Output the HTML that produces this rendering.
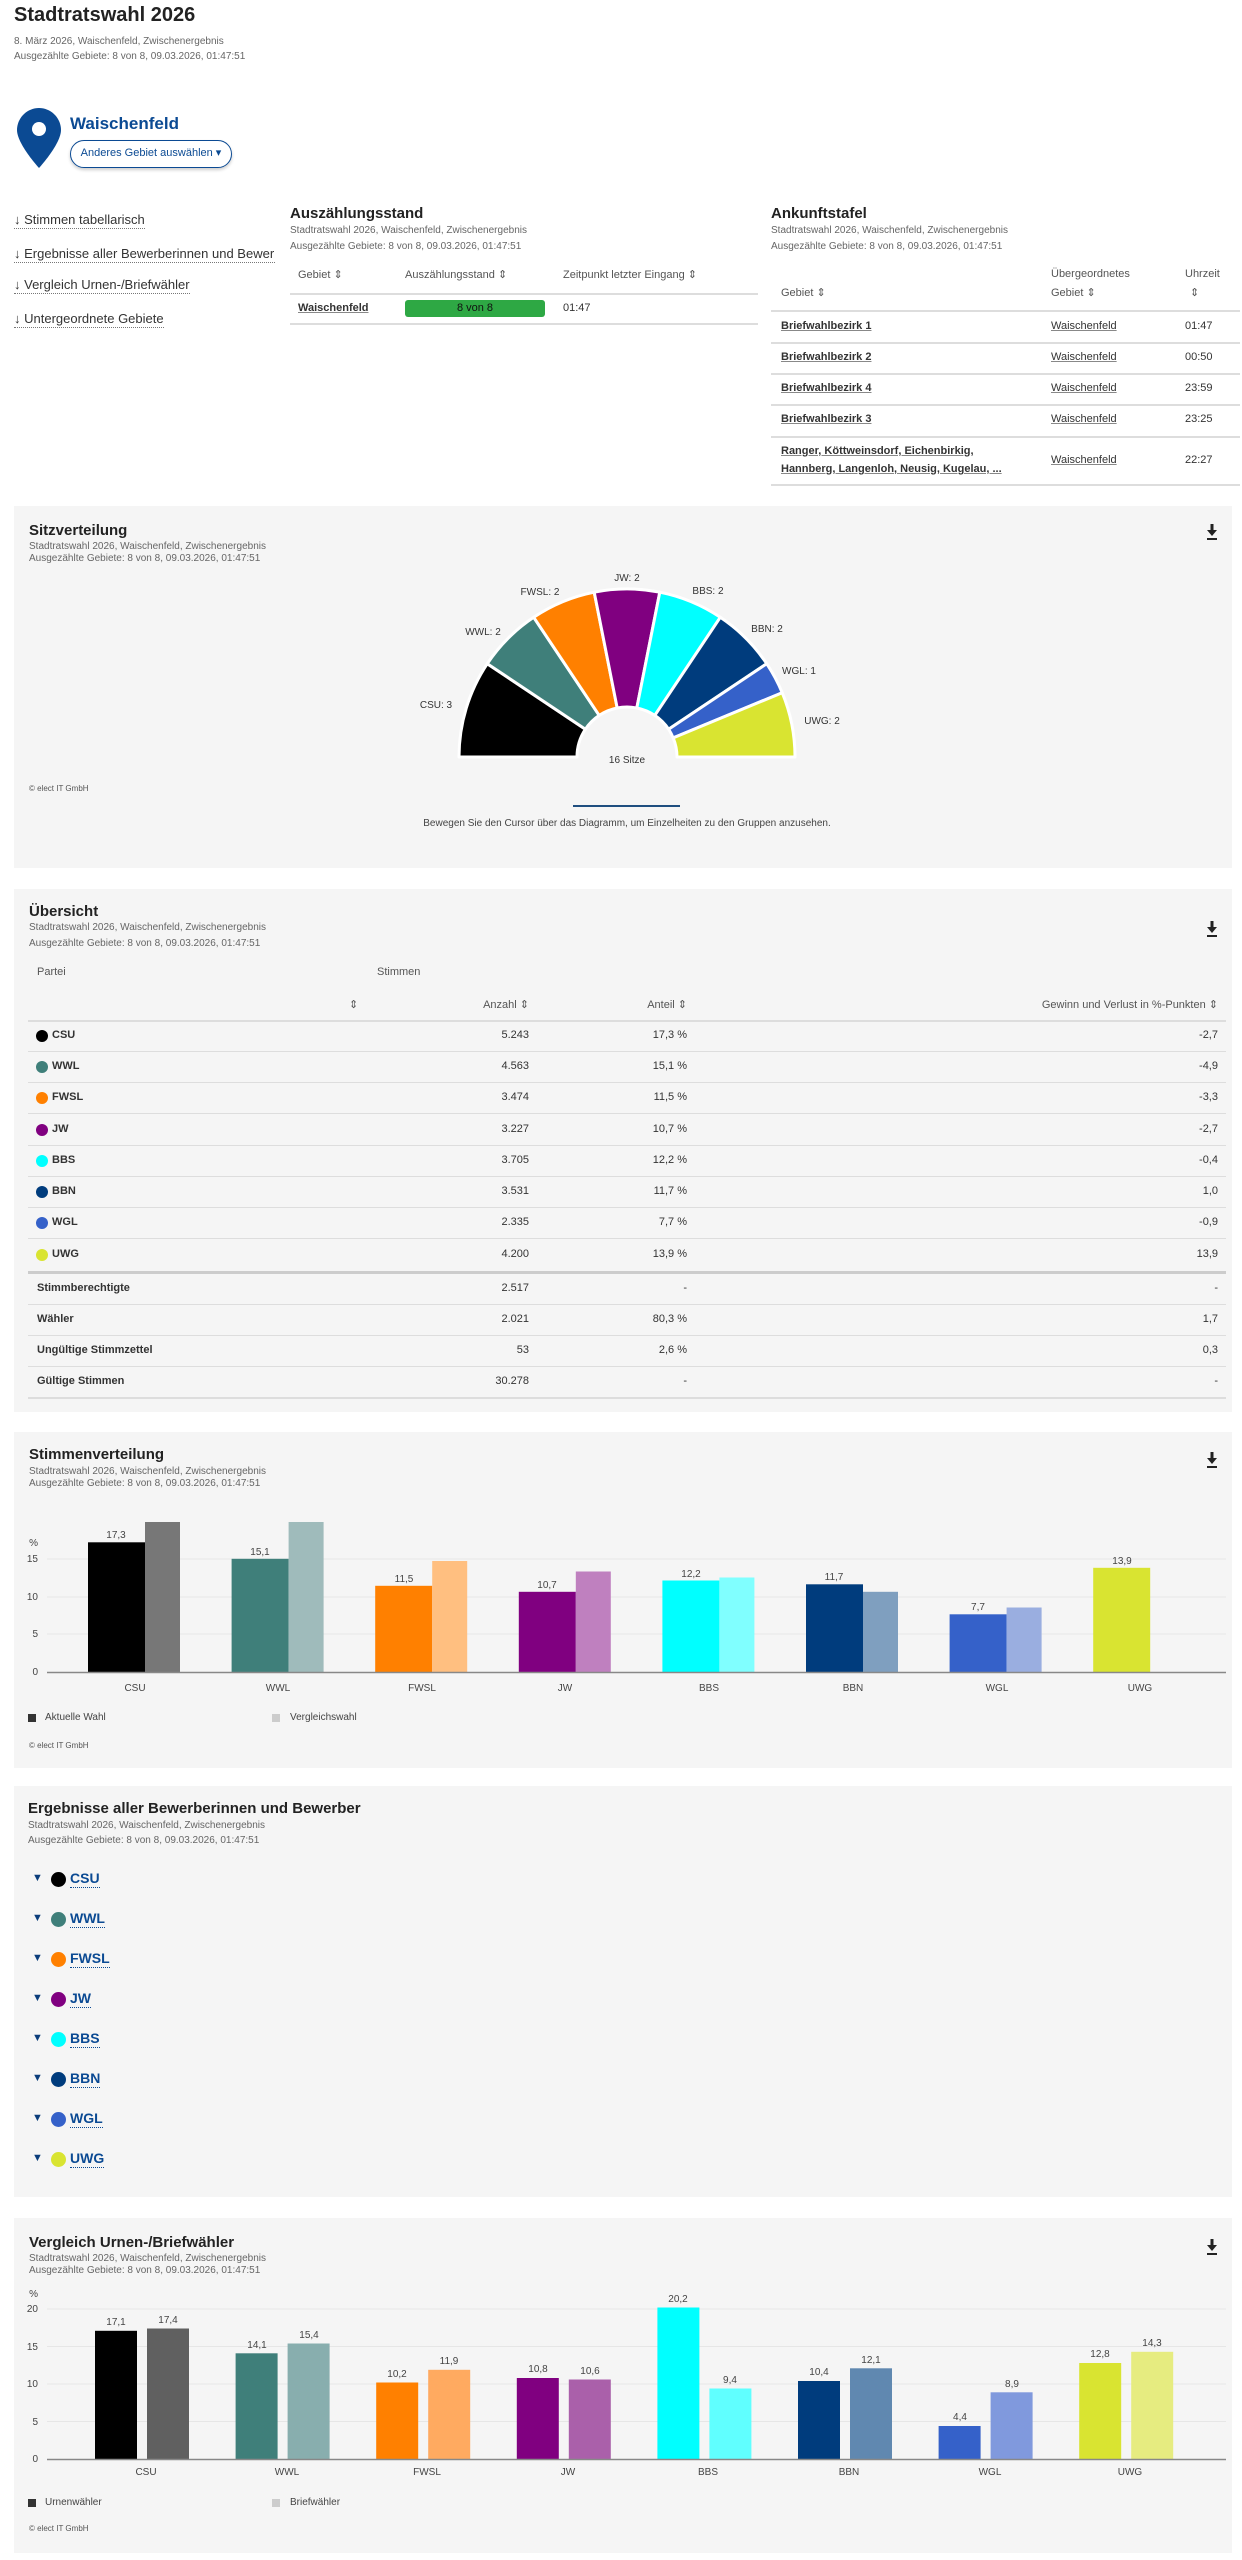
<!DOCTYPE html>
<html><head><meta charset="utf-8">
<style>
*{margin:0;padding:0;box-sizing:border-box}
body{width:1242px;height:2560px;background:#fff;font-family:"Liberation Sans",sans-serif;color:#222;position:relative;overflow:hidden}
.a{position:absolute;white-space:nowrap}
.panel{position:absolute;left:14px;width:1218px;background:#f5f5f5}
.sub{font-size:10px;color:#666}
.h2{font-size:15px;font-weight:bold;color:#222}
.nav{font-size:13px;color:#333;border-bottom:1px dotted #777;padding-bottom:1px}
.th{font-size:11px;color:#555}
.td{font-size:11px;color:#333}
.lnk{text-decoration:underline;text-decoration-style:solid;text-decoration-color:#888}
.hl{position:absolute;height:1px;background:#ddd}
.dot{position:absolute;width:12px;height:12px;border-radius:50%}
</style></head><body>

<!-- header -->
<div class="a" style="left:14px;top:4px;font-size:20px;font-weight:bold;color:#222">Stadtratswahl 2026</div>
<div class="a sub" style="left:14px;top:36px">8. März 2026, Waischenfeld, Zwischenergebnis</div>
<div class="a sub" style="left:14px;top:51px">Ausgezählte Gebiete: 8 von 8, 09.03.2026, 01:47:51</div>

<svg class="a" style="left:17px;top:108px" width="44" height="60" viewBox="0 0 44 60">
<path d="M22 0C10 0 0 10 0 22C0 36 22 60 22 60C22 60 44 36 44 22C44 10 34 0 22 0Z" fill="#0b4a93"/>
<circle cx="22" cy="21" r="7" fill="#fff"/></svg>
<div class="a" style="left:70px;top:114px;font-size:17px;font-weight:bold;color:#0b4a93">Waischenfeld</div>
<div class="a" style="left:70px;top:140px;width:162px;height:28px;border:1.5px solid #0b4a93;border-radius:14px;box-shadow:0 2px 3px rgba(0,0,0,.2);font-size:11px;color:#0b4a93;line-height:25px;text-align:center">Anderes Gebiet auswählen ▾</div>

<!-- nav -->
<div class="a nav" style="left:14px;top:212px">↓ Stimmen tabellarisch</div>
<div class="a" style="left:14px;top:245px;width:261px;overflow:hidden"><span class="nav">↓ Ergebnisse aller Bewerberinnen und Bewerber</span></div>
<div class="a nav" style="left:14px;top:277px">↓ Vergleich Urnen-/Briefwähler</div>
<div class="a nav" style="left:14px;top:311px">↓ Untergeordnete Gebiete</div>

<!-- Auszählungsstand -->
<div class="a h2" style="left:290px;top:205px">Auszählungsstand</div>
<div class="a sub" style="left:290px;top:225px">Stadtratswahl 2026, Waischenfeld, Zwischenergebnis</div>
<div class="a sub" style="left:290px;top:241px">Ausgezählte Gebiete: 8 von 8, 09.03.2026, 01:47:51</div>
<div class="a th" style="left:298px;top:268px">Gebiet ⇕</div>
<div class="a th" style="left:405px;top:268px">Auszählungsstand ⇕</div>
<div class="a th" style="left:563px;top:268px">Zeitpunkt letzter Eingang ⇕</div>
<div class="hl" style="left:290px;top:293px;width:468px;height:2px"></div>
<div class="a td lnk" style="left:298px;top:302px;font-weight:bold">Waischenfeld</div>
<div class="a" style="left:405px;top:300px;width:140px;height:17px;background:#2ea844;border-radius:3px;font-size:11px;color:#111;text-align:center;line-height:17px">8 von 8</div>
<div class="a td" style="left:563px;top:302px">01:47</div>
<div class="hl" style="left:290px;top:323px;width:468px;height:2px"></div>

<!-- Ankunftstafel -->
<div class="a h2" style="left:771px;top:205px">Ankunftstafel</div>
<div class="a sub" style="left:771px;top:225px">Stadtratswahl 2026, Waischenfeld, Zwischenergebnis</div>
<div class="a sub" style="left:771px;top:241px">Ausgezählte Gebiete: 8 von 8, 09.03.2026, 01:47:51</div>
<div class="a th" style="left:781px;top:286px">Gebiet ⇕</div>
<div class="a th" style="left:1051px;top:268px">Übergeordnetes</div>
<div class="a th" style="left:1051px;top:286px">Gebiet ⇕</div>
<div class="a th" style="left:1185px;top:268px">Uhrzeit</div>
<div class="a th" style="left:1190px;top:286px">⇕</div>
<div class="hl" style="left:771px;top:310px;width:469px;height:2px"></div>
<div class="a td lnk" style="left:781px;top:320px;font-weight:bold">Briefwahlbezirk 1</div><div class="a td lnk" style="left:1051px;top:320px">Waischenfeld</div><div class="a td" style="left:1185px;top:320px">01:47</div>
<div class="hl" style="left:771px;top:342px;width:469px;height:2px"></div>
<div class="a td lnk" style="left:781px;top:351px;font-weight:bold">Briefwahlbezirk 2</div><div class="a td lnk" style="left:1051px;top:351px">Waischenfeld</div><div class="a td" style="left:1185px;top:351px">00:50</div>
<div class="hl" style="left:771px;top:373px;width:469px;height:2px"></div>
<div class="a td lnk" style="left:781px;top:382px;font-weight:bold">Briefwahlbezirk 4</div><div class="a td lnk" style="left:1051px;top:382px">Waischenfeld</div><div class="a td" style="left:1185px;top:382px">23:59</div>
<div class="hl" style="left:771px;top:404px;width:469px;height:2px"></div>
<div class="a td lnk" style="left:781px;top:413px;font-weight:bold">Briefwahlbezirk 3</div><div class="a td lnk" style="left:1051px;top:413px">Waischenfeld</div><div class="a td" style="left:1185px;top:413px">23:25</div>
<div class="hl" style="left:771px;top:436px;width:469px;height:2px"></div>
<div class="a td lnk" style="left:781px;top:445px;font-weight:bold">Ranger, Köttweinsdorf, Eichenbirkig,</div>
<div class="a td lnk" style="left:781px;top:463px;font-weight:bold">Hannberg, Langenloh, Neusig, Kugelau, ...</div>
<div class="a td lnk" style="left:1051px;top:454px">Waischenfeld</div><div class="a td" style="left:1185px;top:454px">22:27</div>
<div class="hl" style="left:771px;top:484px;width:469px;height:2px"></div>

<!-- panels -->
<div class="panel" style="top:506px;height:362px"></div>
<div class="panel" style="top:889px;height:523px"></div>
<div class="panel" style="top:1432px;height:336px"></div>
<div class="panel" style="top:1786px;height:411px"></div>
<div class="panel" style="top:2218px;height:335px"></div>

<!-- Sitzverteilung text -->
<div class="a h2" style="left:29px;top:522px">Sitzverteilung</div>
<div class="a sub" style="left:29px;top:541px">Stadtratswahl 2026, Waischenfeld, Zwischenergebnis</div>
<div class="a sub" style="left:29px;top:553px">Ausgezählte Gebiete: 8 von 8, 09.03.2026, 01:47:51</div>
<div class="a" style="left:29px;top:784px;font-size:8px;color:#555">© elect IT GmbH</div>
<div class="a" style="left:573px;top:805px;width:107px;height:2px;background:#1f4e7f"></div>
<div class="a" style="left:0;width:1254px;top:818px;font-size:10px;color:#444;text-align:center">Bewegen Sie den Cursor über das Diagramm, um Einzelheiten zu den Gruppen anzusehen.</div>

<!-- Übersicht -->
<div class="a h2" style="left:29px;top:903px">Übersicht</div>
<div class="a sub" style="left:29px;top:922px">Stadtratswahl 2026, Waischenfeld, Zwischenergebnis</div>
<div class="a sub" style="left:29px;top:938px">Ausgezählte Gebiete: 8 von 8, 09.03.2026, 01:47:51</div>
<div class="a th" style="left:37px;top:966px">Partei</div>
<div class="a th" style="left:377px;top:966px">Stimmen</div>
<div class="a th" style="left:349px;top:998px">⇕</div>
<div class="a th" style="right:713px;top:998px">Anzahl ⇕</div>
<div class="a th" style="right:555px;top:998px">Anteil ⇕</div>
<div class="a th" style="right:24px;top:998px">Gewinn und Verlust in %-Punkten ⇕</div>
<div class="hl" style="left:28px;top:1020px;width:1198px;height:2px"></div>

<div id="tbl"></div>

<!-- Stimmenverteilung -->
<div class="a h2" style="left:29px;top:1446px">Stimmenverteilung</div>
<div class="a sub" style="left:29px;top:1466px">Stadtratswahl 2026, Waischenfeld, Zwischenergebnis</div>
<div class="a sub" style="left:29px;top:1478px">Ausgezählte Gebiete: 8 von 8, 09.03.2026, 01:47:51</div>
<div class="a" style="left:28px;top:1714px;width:8px;height:8px;background:#333"></div>
<div class="a" style="left:45px;top:1712px;font-size:10px;color:#444">Aktuelle Wahl</div>
<div class="a" style="left:272px;top:1714px;width:8px;height:8px;background:#ccc"></div>
<div class="a" style="left:290px;top:1712px;font-size:10px;color:#444">Vergleichswahl</div>
<div class="a" style="left:29px;top:1741px;font-size:8px;color:#555">© elect IT GmbH</div>

<!-- Ergebnisse -->
<div class="a h2" style="left:28px;top:1800px">Ergebnisse aller Bewerberinnen und Bewerber</div>
<div class="a sub" style="left:28px;top:1820px">Stadtratswahl 2026, Waischenfeld, Zwischenergebnis</div>
<div class="a sub" style="left:28px;top:1835px">Ausgezählte Gebiete: 8 von 8, 09.03.2026, 01:47:51</div>
<div id="erg"></div>

<!-- Vergleich -->
<div class="a h2" style="left:29px;top:2234px">Vergleich Urnen-/Briefwähler</div>
<div class="a sub" style="left:29px;top:2253px">Stadtratswahl 2026, Waischenfeld, Zwischenergebnis</div>
<div class="a sub" style="left:29px;top:2265px">Ausgezählte Gebiete: 8 von 8, 09.03.2026, 01:47:51</div>
<div class="a" style="left:28px;top:2499px;width:8px;height:8px;background:#333"></div>
<div class="a" style="left:45px;top:2497px;font-size:10px;color:#444">Urnenwähler</div>
<div class="a" style="left:272px;top:2499px;width:8px;height:8px;background:#ccc"></div>
<div class="a" style="left:290px;top:2497px;font-size:10px;color:#444">Briefwähler</div>
<div class="a" style="left:29px;top:2524px;font-size:8px;color:#555">© elect IT GmbH</div>

<!-- table rows (static) -->
<div class="dot" style="left:36px;top:1030px;background:#000"></div><div class="a td" style="left:52px;top:1029px;font-weight:bold">CSU</div><div class="a td" style="right:713px;top:1029px">5.243</div><div class="a td" style="right:555px;top:1029px">17,3 %</div><div class="a td" style="right:24px;top:1029px">-2,7</div>
<div class="hl" style="left:28px;top:1051px;width:1198px"></div>
<div class="dot" style="left:36px;top:1061px;background:#3f7f7a"></div><div class="a td" style="left:52px;top:1060px;font-weight:bold">WWL</div><div class="a td" style="right:713px;top:1060px">4.563</div><div class="a td" style="right:555px;top:1060px">15,1 %</div><div class="a td" style="right:24px;top:1060px">-4,9</div>
<div class="hl" style="left:28px;top:1082px;width:1198px"></div>
<div class="dot" style="left:36px;top:1092px;background:#ff8000"></div><div class="a td" style="left:52px;top:1091px;font-weight:bold">FWSL</div><div class="a td" style="right:713px;top:1091px">3.474</div><div class="a td" style="right:555px;top:1091px">11,5 %</div><div class="a td" style="right:24px;top:1091px">-3,3</div>
<div class="hl" style="left:28px;top:1113px;width:1198px"></div>
<div class="dot" style="left:36px;top:1124px;background:#800080"></div><div class="a td" style="left:52px;top:1123px;font-weight:bold">JW</div><div class="a td" style="right:713px;top:1123px">3.227</div><div class="a td" style="right:555px;top:1123px">10,7 %</div><div class="a td" style="right:24px;top:1123px">-2,7</div>
<div class="hl" style="left:28px;top:1145px;width:1198px"></div>
<div class="dot" style="left:36px;top:1155px;background:#00ffff"></div><div class="a td" style="left:52px;top:1154px;font-weight:bold">BBS</div><div class="a td" style="right:713px;top:1154px">3.705</div><div class="a td" style="right:555px;top:1154px">12,2 %</div><div class="a td" style="right:24px;top:1154px">-0,4</div>
<div class="hl" style="left:28px;top:1176px;width:1198px"></div>
<div class="dot" style="left:36px;top:1186px;background:#003c7d"></div><div class="a td" style="left:52px;top:1185px;font-weight:bold">BBN</div><div class="a td" style="right:713px;top:1185px">3.531</div><div class="a td" style="right:555px;top:1185px">11,7 %</div><div class="a td" style="right:24px;top:1185px">1,0</div>
<div class="hl" style="left:28px;top:1207px;width:1198px"></div>
<div class="dot" style="left:36px;top:1217px;background:#3561c9"></div><div class="a td" style="left:52px;top:1216px;font-weight:bold">WGL</div><div class="a td" style="right:713px;top:1216px">2.335</div><div class="a td" style="right:555px;top:1216px">7,7 %</div><div class="a td" style="right:24px;top:1216px">-0,9</div>
<div class="hl" style="left:28px;top:1238px;width:1198px"></div>
<div class="dot" style="left:36px;top:1249px;background:#d9e431"></div><div class="a td" style="left:52px;top:1248px;font-weight:bold">UWG</div><div class="a td" style="right:713px;top:1248px">4.200</div><div class="a td" style="right:555px;top:1248px">13,9 %</div><div class="a td" style="right:24px;top:1248px">13,9</div>
<div class="hl" style="left:28px;top:1271px;width:1198px;height:3px;background:#ccc"></div>
<div class="a td" style="left:37px;top:1282px;font-weight:bold">Stimmberechtigte</div><div class="a td" style="right:713px;top:1282px">2.517</div><div class="a td" style="right:555px;top:1282px">-</div><div class="a td" style="right:24px;top:1282px">-</div>
<div class="hl" style="left:28px;top:1304px;width:1198px"></div>
<div class="a td" style="left:37px;top:1313px;font-weight:bold">Wähler</div><div class="a td" style="right:713px;top:1313px">2.021</div><div class="a td" style="right:555px;top:1313px">80,3 %</div><div class="a td" style="right:24px;top:1313px">1,7</div>
<div class="hl" style="left:28px;top:1335px;width:1198px"></div>
<div class="a td" style="left:37px;top:1344px;font-weight:bold">Ungültige Stimmzettel</div><div class="a td" style="right:713px;top:1344px">53</div><div class="a td" style="right:555px;top:1344px">2,6 %</div><div class="a td" style="right:24px;top:1344px">0,3</div>
<div class="hl" style="left:28px;top:1366px;width:1198px"></div>
<div class="a td" style="left:37px;top:1375px;font-weight:bold">Gültige Stimmen</div><div class="a td" style="right:713px;top:1375px">30.278</div><div class="a td" style="right:555px;top:1375px">-</div><div class="a td" style="right:24px;top:1375px">-</div>
<div class="hl" style="left:28px;top:1397px;width:1198px;height:2px"></div>

<!-- Ergebnisse list -->
<div class="a" style="left:32px;top:1872px;font-size:11px;color:#0b3d7a">▼</div><div class="dot" style="left:51px;top:1872px;width:15px;height:15px;background:#000"></div><div class="a nav" style="left:70px;top:1870px;font-weight:bold;color:#0b4a93;font-size:14px;border-bottom-color:#0b4a93">CSU</div>
<div class="a" style="left:32px;top:1912px;font-size:11px;color:#0b3d7a">▼</div><div class="dot" style="left:51px;top:1912px;width:15px;height:15px;background:#3f7f7a"></div><div class="a nav" style="left:70px;top:1910px;font-weight:bold;color:#0b4a93;font-size:14px;border-bottom-color:#0b4a93">WWL</div>
<div class="a" style="left:32px;top:1952px;font-size:11px;color:#0b3d7a">▼</div><div class="dot" style="left:51px;top:1952px;width:15px;height:15px;background:#ff8000"></div><div class="a nav" style="left:70px;top:1950px;font-weight:bold;color:#0b4a93;font-size:14px;border-bottom-color:#0b4a93">FWSL</div>
<div class="a" style="left:32px;top:1992px;font-size:11px;color:#0b3d7a">▼</div><div class="dot" style="left:51px;top:1992px;width:15px;height:15px;background:#800080"></div><div class="a nav" style="left:70px;top:1990px;font-weight:bold;color:#0b4a93;font-size:14px;border-bottom-color:#0b4a93">JW</div>
<div class="a" style="left:32px;top:2032px;font-size:11px;color:#0b3d7a">▼</div><div class="dot" style="left:51px;top:2032px;width:15px;height:15px;background:#00ffff"></div><div class="a nav" style="left:70px;top:2030px;font-weight:bold;color:#0b4a93;font-size:14px;border-bottom-color:#0b4a93">BBS</div>
<div class="a" style="left:32px;top:2072px;font-size:11px;color:#0b3d7a">▼</div><div class="dot" style="left:51px;top:2072px;width:15px;height:15px;background:#003c7d"></div><div class="a nav" style="left:70px;top:2070px;font-weight:bold;color:#0b4a93;font-size:14px;border-bottom-color:#0b4a93">BBN</div>
<div class="a" style="left:32px;top:2112px;font-size:11px;color:#0b3d7a">▼</div><div class="dot" style="left:51px;top:2112px;width:15px;height:15px;background:#3561c9"></div><div class="a nav" style="left:70px;top:2110px;font-weight:bold;color:#0b4a93;font-size:14px;border-bottom-color:#0b4a93">WGL</div>
<div class="a" style="left:32px;top:2152px;font-size:11px;color:#0b3d7a">▼</div><div class="dot" style="left:51px;top:2152px;width:15px;height:15px;background:#d9e431"></div><div class="a nav" style="left:70px;top:2150px;font-weight:bold;color:#0b4a93;font-size:14px;border-bottom-color:#0b4a93">UWG</div>

<!-- charts overlay -->
<svg class="a" style="left:0;top:0" width="1242" height="2560" font-family="Liberation Sans, sans-serif">
<!-- download icons -->
<g fill="#222">
<g transform="translate(1212,524)"><rect x="-1.5" y="0" width="3" height="7"/><path d="M-5 6L5 6L0 12Z"/><rect x="-5" y="14" width="10" height="2"/></g>
<g transform="translate(1212,921)"><rect x="-1.5" y="0" width="3" height="7"/><path d="M-5 6L5 6L0 12Z"/><rect x="-5" y="14" width="10" height="2"/></g>
<g transform="translate(1212,1452)"><rect x="-1.5" y="0" width="3" height="7"/><path d="M-5 6L5 6L0 12Z"/><rect x="-5" y="14" width="10" height="2"/></g>
<g transform="translate(1212,2239)"><rect x="-1.5" y="0" width="3" height="7"/><path d="M-5 6L5 6L0 12Z"/><rect x="-5" y="14" width="10" height="2"/></g>
</g>

<!-- hemicycle -->
<g stroke="#fff" stroke-width="3" stroke-linejoin="round">
<path d="M459 757A168 168 0 0 1 487.3 663.7L585.4 729.2A50 50 0 0 0 577 757Z" fill="#000"/>
<path d="M487.3 663.7A168 168 0 0 1 533.7 617.3L599.2 715.4A50 50 0 0 0 585.4 729.2Z" fill="#3f7f7a"/>
<path d="M533.7 617.3A168 168 0 0 1 594.2 592.2L617.2 708A50 50 0 0 0 599.2 715.4Z" fill="#ff8000"/>
<path d="M594.2 592.2A168 168 0 0 1 659.8 592.2L636.8 708A50 50 0 0 0 617.2 708Z" fill="#800080"/>
<path d="M659.8 592.2A168 168 0 0 1 720.3 617.3L654.8 715.4A50 50 0 0 0 636.8 708Z" fill="#00ffff"/>
<path d="M720.3 617.3A168 168 0 0 1 766.7 663.7L668.6 729.2A50 50 0 0 0 654.8 715.4Z" fill="#003c7d"/>
<path d="M766.7 663.7A168 168 0 0 1 782.2 692.7L673.2 737.9A50 50 0 0 0 668.6 729.2Z" fill="#3561c9"/>
<path d="M782.2 692.7A168 168 0 0 1 795 757L677 757A50 50 0 0 0 673.2 737.9Z" fill="#d9e431"/>
</g>
<g font-size="10" fill="#333" text-anchor="middle">
<text x="436" y="708">CSU: 3</text><text x="483" y="635">WWL: 2</text><text x="540" y="595">FWSL: 2</text>
<text x="627" y="581">JW: 2</text><text x="708" y="594">BBS: 2</text><text x="767" y="632">BBN: 2</text>
<text x="799" y="674">WGL: 1</text><text x="822" y="724">UWG: 2</text><text x="627" y="763">16 Sitze</text>
</g>

<!-- Stimmenverteilung chart -->
<g stroke="#e6e6e6" stroke-width="1">
<line x1="47" y1="1559" x2="1226" y2="1559"/><line x1="47" y1="1597" x2="1226" y2="1597"/><line x1="47" y1="1634" x2="1226" y2="1634"/>
</g>
<g font-size="10" fill="#444" text-anchor="end">
<text x="38" y="1546">%</text><text x="38" y="1562">15</text><text x="38" y="1600">10</text><text x="38" y="1637">5</text><text x="38" y="1675">0</text>
</g>
<g>
<rect x="88" y="1542.3" width="57" height="129.7" fill="#000"/><rect x="145" y="1522" width="35" height="150" fill="#777"/>
<rect x="231.6" y="1558.8" width="57" height="113.2" fill="#3f7f7a"/><rect x="288.6" y="1522" width="35" height="150" fill="#9fbbbb"/>
<rect x="375.2" y="1585.8" width="57" height="86.2" fill="#ff8000"/><rect x="432.2" y="1561" width="35" height="111" fill="#ffbf80"/>
<rect x="518.8" y="1591.8" width="57" height="80.2" fill="#800080"/><rect x="575.8" y="1571.5" width="35" height="100.5" fill="#bf80bf"/>
<rect x="662.4" y="1580.5" width="57" height="91.5" fill="#00ffff"/><rect x="719.4" y="1577.5" width="35" height="94.5" fill="#80ffff"/>
<rect x="806" y="1584.3" width="57" height="87.7" fill="#003c7d"/><rect x="863" y="1591.8" width="35" height="80.2" fill="#7f9fbf"/>
<rect x="949.6" y="1614.3" width="57" height="57.7" fill="#3561c9"/><rect x="1006.6" y="1607.5" width="35" height="64.5" fill="#9aaee0"/>
<rect x="1093.2" y="1567.8" width="57" height="104.2" fill="#d9e431"/>
</g>
<line x1="47" y1="1672.5" x2="1226" y2="1672.5" stroke="#888" stroke-width="1.5"/>
<g font-size="10" fill="#444" text-anchor="middle">
<text x="116" y="1538">17,3</text><text x="260" y="1555">15,1</text><text x="404" y="1582">11,5</text><text x="547" y="1588">10,7</text>
<text x="691" y="1577">12,2</text><text x="834" y="1580">11,7</text><text x="978" y="1610">7,7</text><text x="1122" y="1564">13,9</text>
</g>
<g font-size="10" fill="#444" text-anchor="middle">
<text x="135" y="1691">CSU</text><text x="278" y="1691">WWL</text><text x="422" y="1691">FWSL</text><text x="565" y="1691">JW</text>
<text x="709" y="1691">BBS</text><text x="853" y="1691">BBN</text><text x="997" y="1691">WGL</text><text x="1140" y="1691">UWG</text>
</g>

<!-- Vergleich chart -->
<g stroke="#e6e6e6" stroke-width="1">
<line x1="47" y1="2309" x2="1226" y2="2309"/><line x1="47" y1="2346.5" x2="1226" y2="2346.5"/><line x1="47" y1="2384" x2="1226" y2="2384"/><line x1="47" y1="2421.5" x2="1226" y2="2421.5"/>
</g>
<g font-size="10" fill="#444" text-anchor="end">
<text x="38" y="2297">%</text><text x="38" y="2312">20</text><text x="38" y="2350">15</text><text x="38" y="2387">10</text><text x="38" y="2425">5</text><text x="38" y="2462">0</text>
</g>
<g>
<rect x="95" y="2330.8" width="42" height="128.2" fill="#000"/><rect x="147" y="2328.5" width="42" height="130.5" fill="#606060"/>
<rect x="235.6" y="2353.3" width="42" height="105.7" fill="#3f7f7a"/><rect x="287.6" y="2343.5" width="42" height="115.5" fill="#88aeae"/>
<rect x="376.2" y="2382.5" width="42" height="76.5" fill="#ff8000"/><rect x="428.2" y="2369.8" width="42" height="89.2" fill="#ffaa60"/>
<rect x="516.8" y="2378" width="42" height="81" fill="#800080"/><rect x="568.8" y="2379.5" width="42" height="79.5" fill="#aa60aa"/>
<rect x="657.4" y="2307.5" width="42" height="151.5" fill="#00ffff"/><rect x="709.4" y="2388.5" width="42" height="70.5" fill="#60ffff"/>
<rect x="798" y="2381" width="42" height="78" fill="#003c7d"/><rect x="850" y="2368.3" width="42" height="90.7" fill="#6088b0"/>
<rect x="938.6" y="2426" width="42" height="33" fill="#3561c9"/><rect x="990.6" y="2392.3" width="42" height="66.7" fill="#8099dd"/>
<rect x="1079.2" y="2363" width="42" height="96" fill="#d9e431"/><rect x="1131.2" y="2351.8" width="42" height="107.2" fill="#e6ec80"/>
</g>
<line x1="47" y1="2459.5" x2="1226" y2="2459.5" stroke="#888" stroke-width="1.5"/>
<g font-size="10" fill="#444" text-anchor="middle">
<text x="116" y="2325">17,1</text><text x="168" y="2323">17,4</text>
<text x="257" y="2348">14,1</text><text x="309" y="2338">15,4</text>
<text x="397" y="2377">10,2</text><text x="449" y="2364">11,9</text>
<text x="538" y="2372">10,8</text><text x="590" y="2374">10,6</text>
<text x="678" y="2302">20,2</text><text x="730" y="2383">9,4</text>
<text x="819" y="2375">10,4</text><text x="871" y="2363">12,1</text>
<text x="960" y="2420">4,4</text><text x="1012" y="2387">8,9</text>
<text x="1100" y="2357">12,8</text><text x="1152" y="2346">14,3</text>
</g>
<g font-size="10" fill="#444" text-anchor="middle">
<text x="146" y="2475">CSU</text><text x="287" y="2475">WWL</text><text x="427" y="2475">FWSL</text><text x="568" y="2475">JW</text>
<text x="708" y="2475">BBS</text><text x="849" y="2475">BBN</text><text x="990" y="2475">WGL</text><text x="1130" y="2475">UWG</text>
</g>
</svg>
</body></html>
